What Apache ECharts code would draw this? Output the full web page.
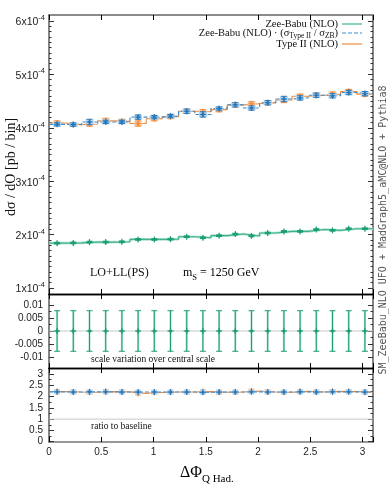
<!DOCTYPE html>
<html>
<head>
<meta charset="utf-8">
<script src="https://cdn.jsdelivr.net/npm/echarts@6.0.0/dist/echarts.min.js"></script>
<style>
  html, body { margin: 0; padding: 0; background: #fff; }
  #main { width: 392px; height: 491px; }
</style>
</head>
<body>
<div id="main"></div>
<script>
// bin edges of ΔΦ_Q Had. (20 bins)
var binEdges = [0, 0.155, 0.31, 0.465, 0.62, 0.775, 0.93, 1.085, 1.24, 1.395, 1.55,
  1.705, 1.86, 2.015, 2.17, 2.325, 2.48, 2.635, 2.79, 2.945, 3.1];

// dσ / dO [pb / bin]
var zeeBabu = [1.84e-4, 1.845e-4, 1.86e-4, 1.86e-4, 1.865e-4, 1.91e-4, 1.91e-4, 1.915e-4, 1.96e-4, 1.94e-4,
  1.98e-4, 2.01e-4, 1.975e-4, 2.03e-4, 2.06e-4, 2.06e-4, 2.095e-4, 2.08e-4, 2.11e-4, 2.11e-4];
var zeeBabuErr = [0.015e-4, 0.015e-4, 0.015e-4, 0.015e-4, 0.015e-4, 0.015e-4, 0.015e-4, 0.015e-4, 0.015e-4, 0.015e-4,
  0.015e-4, 0.015e-4, 0.015e-4, 0.015e-4, 0.015e-4, 0.015e-4, 0.015e-4, 0.015e-4, 0.015e-4, 0.015e-4];
var zeeBabuScaled = [4.065e-4, 4.06e-4, 4.11e-4, 4.11e-4, 4.11e-4, 4.2e-4, 4.2e-4, 4.22e-4, 4.31e-4, 4.25e-4,
  4.36e-4, 4.43e-4, 4.37e-4, 4.47e-4, 4.54e-4, 4.56e-4, 4.61e-4, 4.6e-4, 4.66e-4, 4.64e-4];
var zeeBabuScaledErr = [0.03e-4, 0.03e-4, 0.05e-4, 0.03e-4, 0.03e-4, 0.04e-4, 0.03e-4, 0.03e-4, 0.04e-4, 0.05e-4,
  0.03e-4, 0.04e-4, 0.04e-4, 0.04e-4, 0.05e-4, 0.04e-4, 0.04e-4, 0.04e-4, 0.04e-4, 0.04e-4];
var typeII = [4.09e-4, 4.06e-4, 4.07e-4, 4.13e-4, 4.12e-4, 4.08e-4, 4.17e-4, 4.21e-4, 4.31e-4, 4.3e-4,
  4.34e-4, 4.43e-4, 4.45e-4, 4.47e-4, 4.52e-4, 4.59e-4, 4.61e-4, 4.63e-4, 4.68e-4, 4.63e-4];
var typeIIErr = [0.04e-4, 0.03e-4, 0.04e-4, 0.05e-4, 0.04e-4, 0.05e-4, 0.04e-4, 0.04e-4, 0.04e-4, 0.04e-4,
  0.04e-4, 0.04e-4, 0.04e-4, 0.04e-4, 0.05e-4, 0.04e-4, 0.04e-4, 0.04e-4, 0.04e-4, 0.04e-4];

// scale variation over central scale
var scaleUp = [0.0078, 0.0078, 0.0078, 0.0078, 0.0078, 0.0078, 0.0078, 0.0078, 0.0078, 0.0078,
  0.0078, 0.0078, 0.0078, 0.0078, 0.0078, 0.0078, 0.0078, 0.0078, 0.0078, 0.0078];
var scaleDown = [-0.0078, -0.0078, -0.0078, -0.0078, -0.0078, -0.0078, -0.0078, -0.0078, -0.0078, -0.0078,
  -0.0078, -0.0078, -0.0078, -0.0078, -0.0078, -0.0078, -0.0078, -0.0078, -0.0078, -0.0078];

// ratio to baseline
var ratioScaled = [2.21, 2.2, 2.21, 2.21, 2.2, 2.2, 2.2, 2.2, 2.2, 2.19,
  2.2, 2.2, 2.21, 2.2, 2.2, 2.21, 2.2, 2.21, 2.21, 2.2];
var ratioTypeII = [2.22, 2.2, 2.19, 2.22, 2.21, 2.14, 2.18, 2.2, 2.2, 2.22,
  2.19, 2.2, 2.25, 2.2, 2.19, 2.23, 2.2, 2.23, 2.22, 2.19];
var ratioErr = [0.02, 0.02, 0.02, 0.02, 0.02, 0.02, 0.02, 0.02, 0.02, 0.02,
  0.02, 0.02, 0.02, 0.02, 0.02, 0.02, 0.02, 0.02, 0.02, 0.02];

var xTicks = [0, 0.5, 1, 1.5, 2, 2.5, 3];

var GREEN = "#3cb38c", GREEN_D = "#1b9e77", GREEN_L = "#b5e2d1";
var BLUE = "#3d8fd1", BLUE_D = "#2a78b8", BLUE_L = "#b6d5ee";
var ORANGE = "#f08c3e", ORANGE_L = "#f9d0ae";
var SANS = "Liberation Sans", SERIF = "Liberation Serif";

function centers() {
  var c = [];
  for (var i = 0; i < binEdges.length - 1; i++) c.push((binEdges[i] + binEdges[i + 1]) / 2);
  return c;
}
function stepData(vals) {
  var d = vals.map(function (v, i) { return [binEdges[i], v]; });
  d.push([binEdges[binEdges.length - 1], vals[vals.length - 1]]);
  return d;
}
function errData(vals, lo, hi) {
  var c = centers();
  return vals.map(function (v, i) { return [c[i], v, lo[i], hi[i]]; });
}
function plusMinus(vals, errs, sign) {
  return vals.map(function (v, i) { return v + sign * errs[i]; });
}

// error bar + marker drawer
function errRender(color, light, boxW, showBar) {
  return function (params, api) {
    var x = api.value(0);
    var c = api.coord([x, api.value(1)]);
    var pLo = api.coord([x, api.value(2)]);
    var pHi = api.coord([x, api.value(3)]);
    var ch = [];
    if (boxW) {
      var top = Math.min(pHi[1], c[1] - 2.5), bot = Math.max(pLo[1], c[1] + 2.5);
      ch.push({ type: "rect", shape: { x: c[0] - boxW, y: top, width: boxW * 2, height: bot - top },
        style: { fill: light } });
    }
    if (showBar) {
      if (!boxW && light) {
        ch.push({ type: "line", shape: { x1: c[0], y1: pHi[1], x2: c[0], y2: pLo[1] },
          style: { stroke: light, lineWidth: 2.2 } });
      }
      ch.push({ type: "line", shape: { x1: c[0], y1: pHi[1], x2: c[0], y2: pLo[1] },
        style: { stroke: color, lineWidth: 1 } });
      ch.push({ type: "line", shape: { x1: c[0] - 3, y1: pHi[1], x2: c[0] + 3, y2: pHi[1] },
        style: { stroke: color, lineWidth: 1 } });
      ch.push({ type: "line", shape: { x1: c[0] - 3, y1: pLo[1], x2: c[0] + 3, y2: pLo[1] },
        style: { stroke: color, lineWidth: 1 } });
    }
    ch.push({ type: "line", shape: { x1: c[0] - 3, y1: c[1], x2: c[0] + 3, y2: c[1] },
      style: { stroke: color, lineWidth: 1.2 } });
    ch.push({ type: "line", shape: { x1: c[0], y1: c[1] - 3, x2: c[0], y2: c[1] + 3 },
      style: { stroke: color, lineWidth: 1.2 } });
    ch.push({ type: "circle", shape: { cx: c[0], cy: c[1], r: 1.6 }, style: { fill: color } });
    return { type: "group", children: ch };
  };
}

// layout
var L = 49, W = 324;
var frames = [[15, 279], [294, 74], [368, 74]];
var dataBoxes = [[21, 267, 1e-4, 6e-4, 1e-4, 10], [305, 52, -0.01, 0.01, 0.005, 2], [374, 67.7, 0, 3, 0.5, 2]];

var grids = [], xAxes = [], yAxes = [];
frames.forEach(function (f, g) {
  grids.push({ left: L, top: f[0], width: W, height: f[1], outerBoundsMode: "none", containLabel: false });
  var topColor = g === 0 ? "#666" : "#000";
  var botColor = g === 2 ? "#777" : "#000";
  [["bottom", botColor], ["top", topColor]].forEach(function (p) {
    xAxes.push({
      type: "value", gridIndex: g, position: p[0], min: 0, max: 3.1, interval: 0.5,
      axisLine: { show: true, onZero: false, lineStyle: { color: p[1], width: p[1] === "#000" ? 1.3 : 1.6 } },
      axisTick: { show: true, inside: true, length: 5, lineStyle: { color: "#000", width: 1 } },
      splitLine: { show: false },
      axisLabel: {
        show: g === 2 && p[0] === "bottom", margin: 5, fontFamily: SANS, fontSize: 10, color: "#222",
        formatter: function (v) { return xTicks.indexOf(Math.round(v * 100) / 100) >= 0 ? String(v) : ""; }
      }
    });
  });
  ["left", "right"].forEach(function (p) {
    yAxes.push({
      type: "value", gridIndex: g, position: p, min: 0, max: 1,
      axisLine: { show: true, onZero: false, lineStyle: { color: "#666", width: 1.6 } },
      axisTick: { show: false }, axisLabel: { show: false }, splitLine: { show: false }
    });
  });
});

function topLabel(v) {
  var m = Math.round(v / 1e-4);
  if (Math.abs(v / 1e-4 - m) > 1e-6) return "";
  return "{b|" + m + "x10}{s|-4}";
}
function midLabel(v) {
  var r = Math.round(v * 1000) / 1000;
  return String(r);
}

dataBoxes.forEach(function (d, k) {
  grids.push({ left: L, top: d[0], width: W, height: d[1], outerBoundsMode: "none", containLabel: false });
  xAxes.push({ type: "value", gridIndex: 3 + k, min: 0, max: 3.1, show: false });
  ["left", "right"].forEach(function (p) {
    var lab = { show: p === "left", fontFamily: SANS, fontSize: 10, color: "#222", margin: 6 };
    if (k === 0) {
      lab.formatter = topLabel;
      lab.margin = 4;
      lab.rich = {
        b: { fontFamily: SANS, fontSize: 10.5, color: "#222", lineHeight: 14, verticalAlign: "bottom" },
        s: { fontFamily: SANS, fontSize: 7.5, color: "#222", lineHeight: 14, verticalAlign: "top" }
      };
    } else if (k === 1) {
      lab.formatter = midLabel;
    }
    yAxes.push({
      type: "value", gridIndex: 3 + k, position: p, min: d[2], max: d[3], interval: d[4],
      axisLine: { show: false },
      axisTick: { show: true, inside: true, length: 5, lineStyle: { color: "#333", width: 1 } },
      minorTick: { show: true, splitNumber: d[5], length: 2.5, lineStyle: { color: "#333", width: 1 } },
      splitLine: { show: false },
      axisLabel: lab
    });
  });
});

var series = [
  // top panel
  { type: "line", xAxisIndex: 6, yAxisIndex: 6, step: "end", symbol: "none", data: stepData(zeeBabu),
    lineStyle: { color: GREEN_L, width: 2.6 }, z: 2 },
  { type: "line", xAxisIndex: 6, yAxisIndex: 6, step: "end", symbol: "none", data: stepData(zeeBabu),
    lineStyle: { color: GREEN, width: 1.1 }, z: 3 },
  { type: "custom", xAxisIndex: 6, yAxisIndex: 6, z: 4,
    renderItem: errRender(GREEN_D, null, 0, true),
    data: errData(zeeBabu, plusMinus(zeeBabu, zeeBabuErr, -1), plusMinus(zeeBabu, zeeBabuErr, 1)) },
  { type: "line", xAxisIndex: 6, yAxisIndex: 6, step: "end", symbol: "none", data: stepData(typeII),
    lineStyle: { color: ORANGE, width: 1.1 }, z: 3 },
  { type: "custom", xAxisIndex: 6, yAxisIndex: 6, z: 4,
    renderItem: errRender(ORANGE, ORANGE_L, 4, true),
    data: errData(typeII, plusMinus(typeII, typeIIErr, -1), plusMinus(typeII, typeIIErr, 1)) },
  { type: "line", xAxisIndex: 6, yAxisIndex: 6, step: "end", symbol: "none", data: stepData(zeeBabuScaled),
    lineStyle: { color: BLUE, width: 1.1, type: [4, 2] }, z: 5 },
  { type: "custom", xAxisIndex: 6, yAxisIndex: 6, z: 6,
    renderItem: errRender(BLUE_D, BLUE_L, 4, true),
    data: errData(zeeBabuScaled, plusMinus(zeeBabuScaled, zeeBabuScaledErr, -1), plusMinus(zeeBabuScaled, zeeBabuScaledErr, 1)) },

  // middle panel
  { type: "line", xAxisIndex: 7, yAxisIndex: 8, symbol: "none", data: [[0, 0], [3.1, 0]],
    lineStyle: { color: "#c8c8c8", width: 1 }, z: 2 },
  { type: "custom", xAxisIndex: 7, yAxisIndex: 8, z: 4,
    renderItem: errRender(GREEN_D, GREEN_L, 0, true),
    data: errData(scaleUp.map(function () { return 0; }), scaleDown, scaleUp) },

  // bottom panel
  { type: "line", xAxisIndex: 8, yAxisIndex: 10, symbol: "none", data: [[0, 1], [3.1, 1]],
    lineStyle: { color: "#c8c8c8", width: 1 }, z: 2 },
  { type: "line", xAxisIndex: 8, yAxisIndex: 10, step: "end", symbol: "none", data: stepData(ratioTypeII),
    lineStyle: { color: ORANGE, width: 1.1 }, z: 3 },
  { type: "custom", xAxisIndex: 8, yAxisIndex: 10, z: 4,
    renderItem: errRender(ORANGE, ORANGE_L, 3, false),
    data: errData(ratioTypeII, plusMinus(ratioTypeII, ratioErr, -1), plusMinus(ratioTypeII, ratioErr, 1)) },
  { type: "line", xAxisIndex: 8, yAxisIndex: 10, step: "end", symbol: "none", data: stepData(ratioScaled),
    lineStyle: { color: BLUE, width: 1.1, type: [4, 2] }, z: 5 },
  { type: "custom", xAxisIndex: 8, yAxisIndex: 10, z: 6,
    renderItem: errRender(BLUE_D, BLUE_L, 3, false),
    data: errData(ratioScaled, plusMinus(ratioScaled, ratioErr, -1), plusMinus(ratioScaled, ratioErr, 1)) }
];

var legendRows = [
  { y: 24, text: "Zee-Babu (NLO)", color: GREEN, dash: null },
  { y: 33, text: "Zee-Babu (NLO) · (σ{sub|Type II} / σ{sub|ZB})", color: BLUE, dash: [4, 2] },
  { y: 44, text: "Type II (NLO)", color: ORANGE, dash: null }
];
var subRich = {
  sub: { fontFamily: SERIF, fontSize: 7.5, color: "#111", verticalAlign: "bottom", lineHeight: 15 },
  m: { fontFamily: SERIF, fontSize: 10.5, color: "#111", lineHeight: 12 }
};

var graphic = [];
legendRows.forEach(function (r) {
  graphic.push({
    type: "text", x: 338, y: r.y, z: 10,
    style: { text: r.text.replace(/^([^{]+)/, "{m|$1}").replace(/\}([^{]+)\{/g, "}{m|$1}{").replace(/\}([^{}]+)$/, "}{m|$1}"),
      rich: subRich, align: "right", verticalAlign: "middle", fill: "#111" }
  });
  graphic.push({
    type: "line", z: 10, shape: { x1: 342, y1: r.y, x2: 362, y2: r.y },
    style: { stroke: r.color, lineWidth: 1.2, lineDash: r.dash }
  });
});
graphic.push(
  { type: "text", x: 90, y: 273, z: 10,
    style: { text: "LO+LL(PS)", font: "12px " + SERIF, fill: "#111", verticalAlign: "middle" } },
  { type: "text", x: 183, y: 273, z: 10,
    style: { text: "{m|m}{s|S}{m| = 1250 GeV}", verticalAlign: "middle",
      rich: { m: { fontFamily: SERIF, fontSize: 12, color: "#111", lineHeight: 14 },
              s: { fontFamily: SERIF, fontSize: 8.5, color: "#111", lineHeight: 18, verticalAlign: "bottom" } } } },
  { type: "text", x: 91, y: 359, z: 10,
    style: { text: "scale variation over central scale", font: "9.5px " + SERIF, fill: "#111", verticalAlign: "middle" } },
  { type: "text", x: 91, y: 426, z: 10,
    style: { text: "ratio to baseline", font: "9.5px " + SERIF, fill: "#111", verticalAlign: "middle" } },
  { type: "text", x: 11, y: 167, rotation: Math.PI / 2, z: 10,
    style: { text: "dσ / dO [pb / bin]", font: "14px " + SERIF, fill: "#111", align: "center", verticalAlign: "middle" } },
  { type: "text", x: 180, y: 473, z: 10,
    style: { text: "{a|ΔΦ}{b|Q Had.}", verticalAlign: "middle",
      rich: { a: { fontFamily: SERIF, fontSize: 16, color: "#111", lineHeight: 18 },
              b: { fontFamily: SERIF, fontSize: 11, color: "#111", lineHeight: 24, verticalAlign: "bottom" } } } },
  { type: "text", x: 383, y: 230, rotation: Math.PI / 2, z: 10,
    style: { text: "SM_ZeeBabu_NLO UFO + MadGraph5_aMC@NLO + Pythia8", font: "10px DejaVu Sans Mono",
      fill: "#555", align: "center", verticalAlign: "middle" } }
);

var myChart = echarts.init(document.getElementById("main"));
myChart.setOption({
  animation: false,
  backgroundColor: "#fff",
  grid: grids,
  xAxis: xAxes,
  yAxis: yAxes,
  series: series,
  graphic: graphic
});
</script>
</body>
</html>
